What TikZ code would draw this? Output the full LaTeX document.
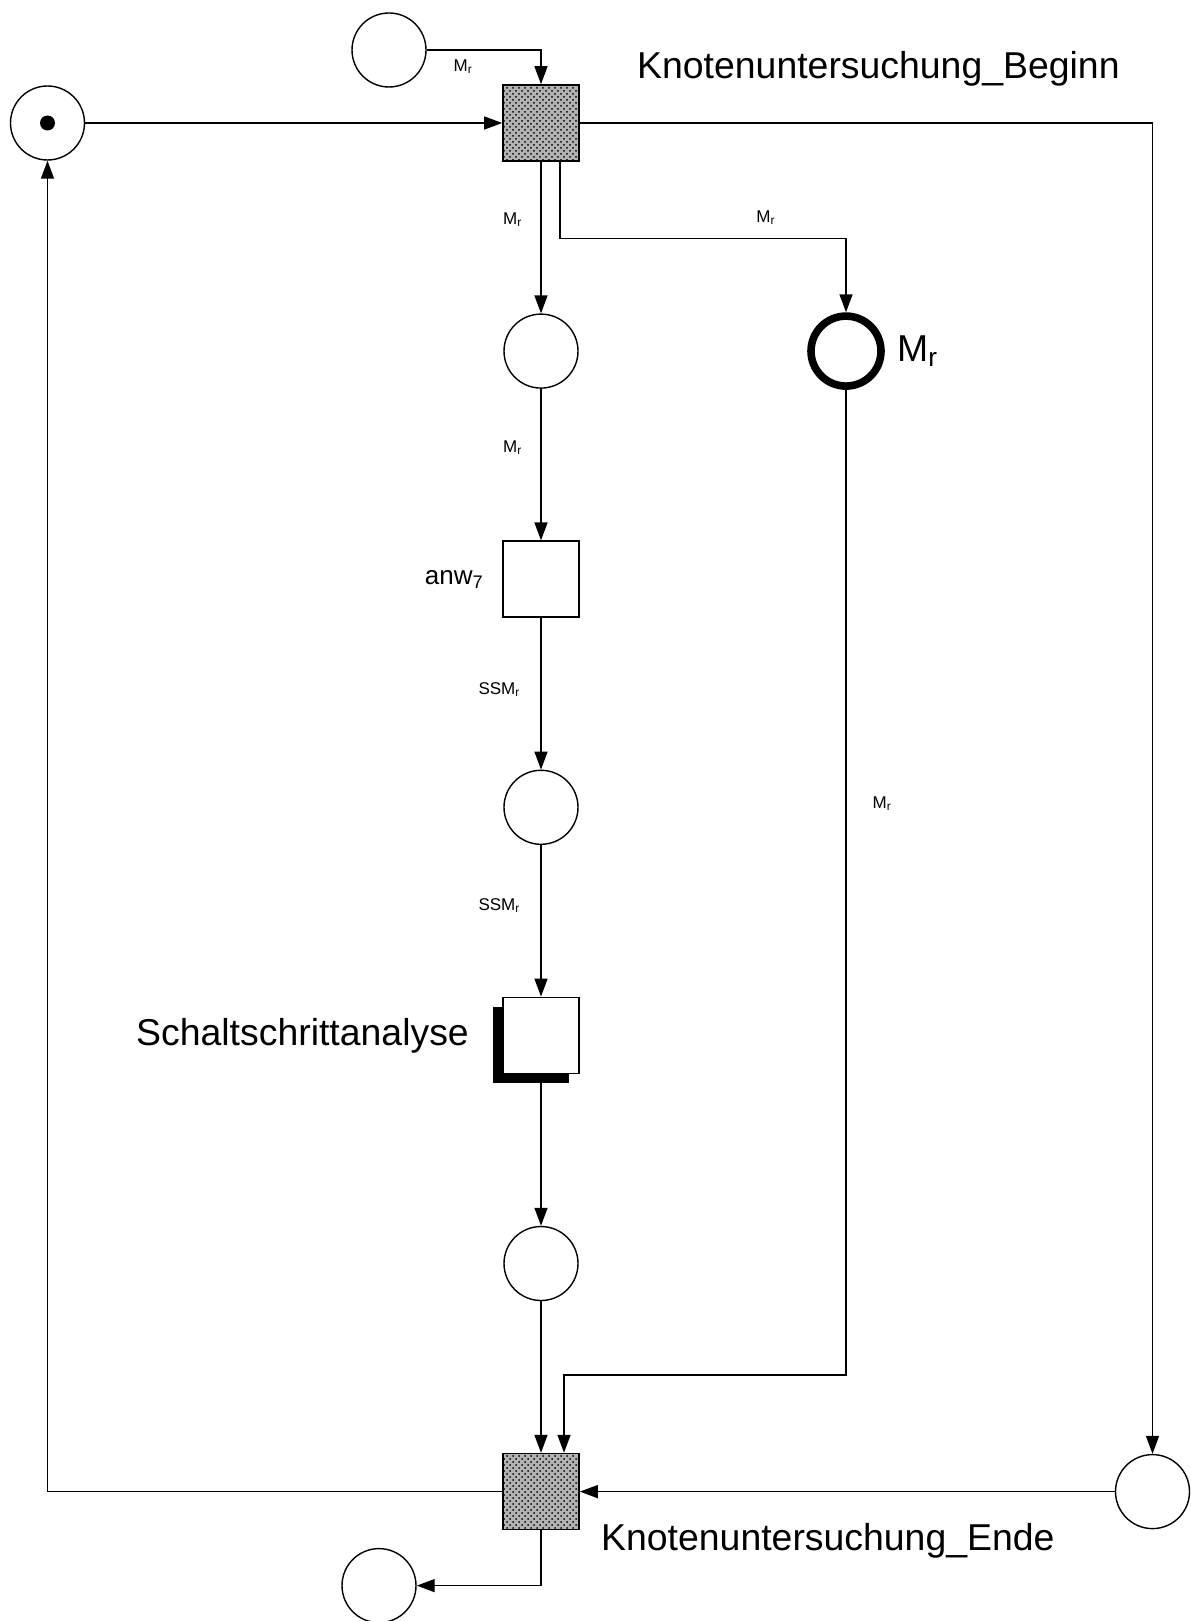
\documentclass[tikz,border=0pt]{standalone}
\usepackage{fontspec}
\setmainfont{Liberation Sans}
\usetikzlibrary{arrows.meta, positioning, patterns, shadows}
\newcommand{\Mr}{M\textsubscript{r}}
\newcommand{\SSMr}{SSM\textsubscript{r}}

\begin{document}
\begin{tikzpicture}[
  x=0.5pt, y=-0.5pt,
  node distance=75.8pt,
  place/.style={circle, draw, line width=0.7pt, minimum size=37pt, inner sep=0pt},
  trans/.style={rectangle, draw, line width=0.8pt, minimum size=38pt, inner sep=0pt},
  hatched/.style={trans, fill=black!30, postaction={pattern=crosshatch dots}},
  shadowed/.style={trans, fill=white,
    drop shadow={shadow xshift=-5pt, shadow yshift=-5pt, fill=black, opacity=1}},
  token/.style={circle, fill, minimum size=7.5pt, inner sep=0pt},
  arr/.style={-{Triangle[length=9pt, width=6.5pt]}, line width=0.7pt},
  lbl/.style={font=\fontsize{8.5}{10}\selectfont, inner sep=0pt},
  bigtxt/.style={font=\fontsize{18.7}{22}\selectfont, inner sep=0pt}
]
\useasboundingbox (0,0) rectangle (1190,1621);

% main column
\node[hatched] (beginn) at (541,123) {};
\node[place, below=of beginn] (p1) {};
\node[trans, below=of p1] (anw) {};
\node[place, below=of anw] (p2) {};
\node[shadowed, below=of p2] (schalt) {};
\node[place, below=of schalt] (p3) {};
\node[hatched, below=of p3] (ende) {};

% side places
\node[place, on grid, above left=36.5pt and 76pt of beginn] (in) {};
\node[place, left=208.5pt of beginn] (start) {};
\node[token] (tok) at (start) {};
\node[place, line width=3.8pt, minimum size=35pt, on grid, right=152.5pt of p1] (mr) {};
\node[place, right=267.5pt of ende] (rest) {};
\node[place, on grid, below left=47pt and 81pt of ende] (out) {};

% names
\node[bigtxt, anchor=base west] (beginnlbl) at ([xshift=28.5pt, yshift=3pt]beginn.north east) {Knotenuntersuchung\_Beginn};
\node[bigtxt, anchor=base west] (endelbl) at ([xshift=10.5pt, yshift=-10pt]ende.south east) {Knotenuntersuchung\_Ende};
\node[bigtxt, left=16.5pt of schalt] (schaltlbl) {Schaltschrittanalyse};
\node[font=\fontsize{13}{15}\selectfont, inner sep=0pt, left=9pt of anw] (anwlbl) {anw\textsubscript{7}};
\node[bigtxt, right=6pt of mr] (mrlbl) {\Mr};

% arcs around Beginn
\draw[arr] (in) -| node[lbl, pos=0.16, below=4.5pt] {\Mr} (beginn);
\draw[arr] (start) -- (beginn);
\draw[arr] (beginn) -| (rest);
\draw[arr] (beginn) -- node[lbl, pos=0.38, left=9pt] {\Mr} (p1);
\draw[arr] ([xshift=9.5pt]beginn.south) -- ++(0pt,-38.5pt) -| node[lbl, pos=0.36, above=7pt] {\Mr} (mr);

% column
\draw[arr] (p1) -- node[lbl, pos=0.39, left=9pt] {\Mr} (anw);
\draw[arr] (anw) -- node[lbl, pos=0.47, left=10pt] {\SSMr} (p2);
\draw[arr] (p2) -- node[lbl, pos=0.4, left=10pt] {\SSMr} (schalt);
\draw[arr] (schalt) -- (p3);
\draw[arr] (p3) -- (ende);

% arcs around Ende
\draw[arr] (mr) -- node[lbl, pos=0.42, right=13pt] {\Mr} ++(0pt,-512pt) -| ([xshift=11.5pt]ende.north);
\draw[arr] (rest) -- (ende);
\draw[arr] (ende) -| (start);
\draw[arr] (ende) |- (out);

\end{tikzpicture}
\end{document}
